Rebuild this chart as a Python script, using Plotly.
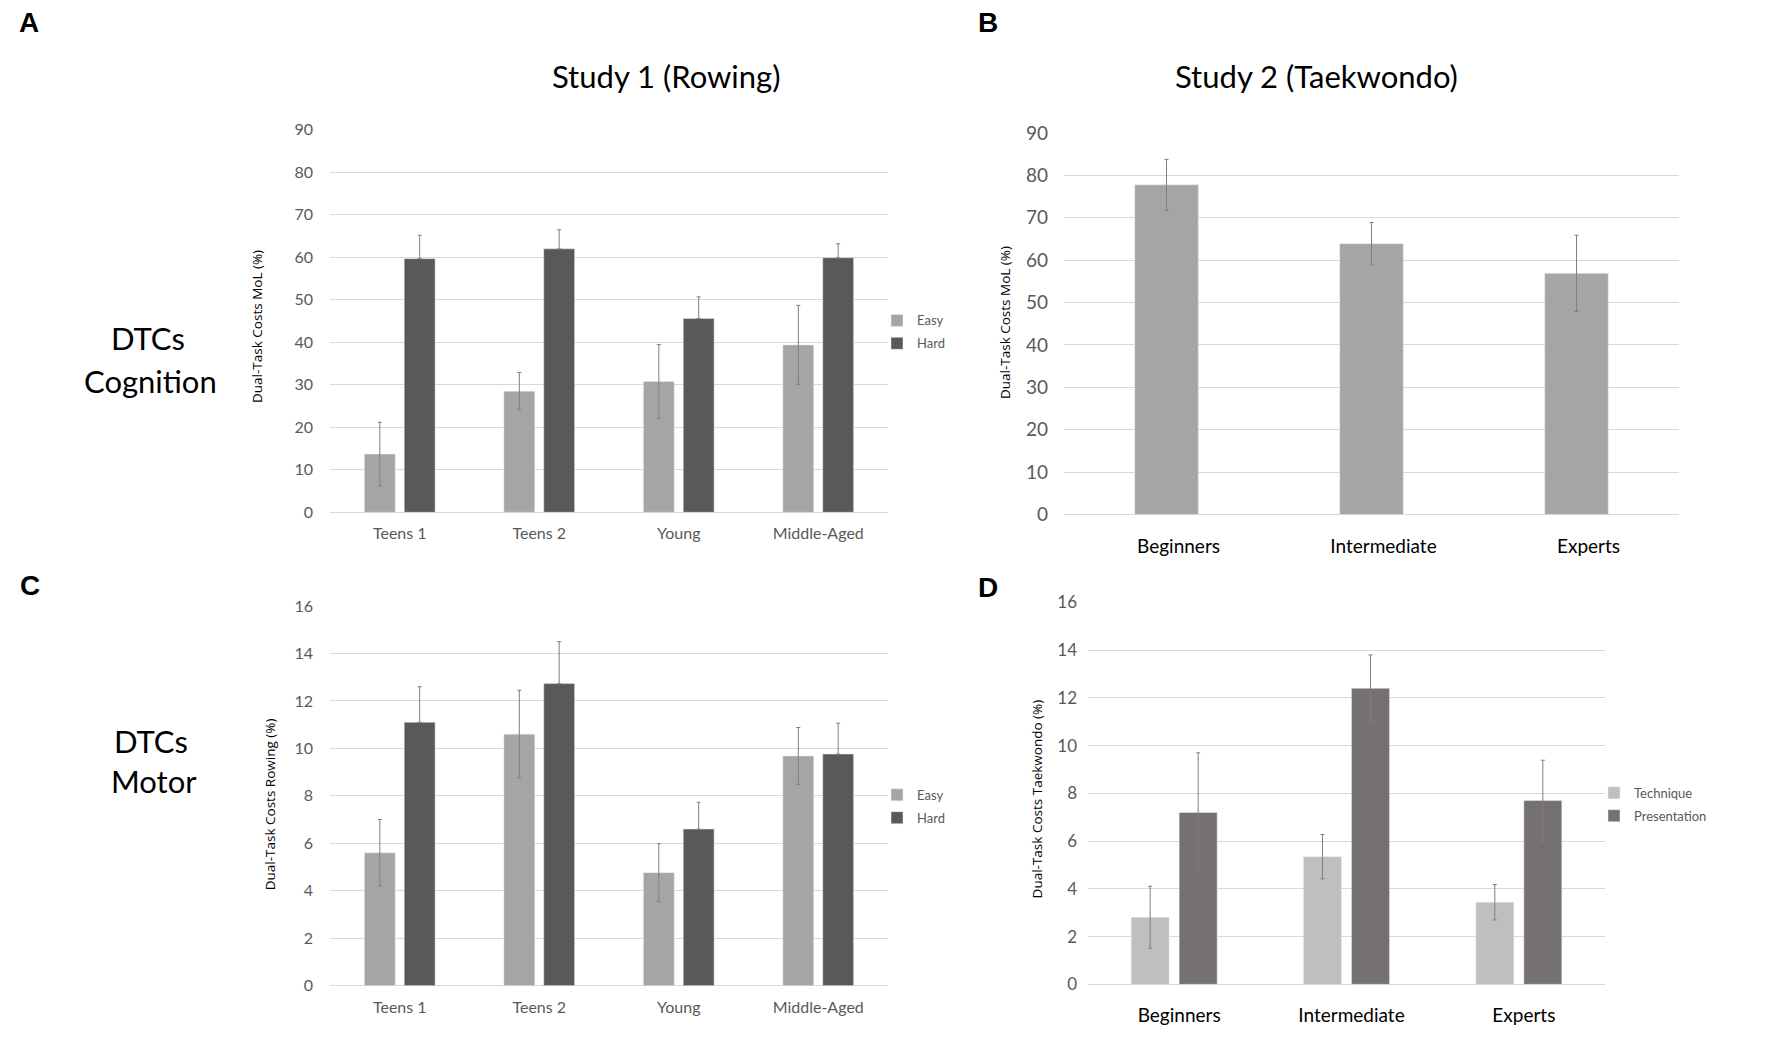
import plotly.graph_objects as go

W, H = 1772, 1052

# ---------------- data ----------------
groups_rowing = ["Teens 1", "Teens 2", "Young", "Middle-Aged"]
cog_easy = [13.7, 28.5, 30.8, 39.4]
cog_easy_err = [7.5, 4.4, 8.7, 9.3]
cog_hard = [59.7, 62.0, 45.6, 59.9]
cog_hard_err = [5.5, 4.5, 5.1, 3.3]

groups_tkd = ["Beginners", "Intermediate", "Experts"]
tkd_cog = [77.8, 63.9, 56.9]
tkd_cog_err = [6.0, 5.0, 9.0]

mot_easy = [5.6, 10.6, 4.76, 9.68]
mot_easy_err = [1.4, 1.85, 1.22, 1.2]
mot_hard = [11.1, 12.73, 6.6, 9.76]
mot_hard_err = [1.5, 1.77, 1.13, 1.3]

tkd_tech = [2.81, 5.35, 3.44]
tkd_tech_err = [1.3, 0.93, 0.74]
tkd_pres = [7.2, 12.4, 7.7]
tkd_pres_err = [2.5, 1.4, 1.69]

zeros4 = [0, 0, 0, 0]

# ---------------- styles ----------------
C_EASY = "#a5a5a5"
C_HARD = "#595959"
C_TECH = "#bfbfbf"
C_PRES = "#767171"
GRID = "#d9d9d9"
TICK = "#595959"
ERR = "#7f7f7f"
FONT = "Lato, Carlito, Liberation Sans, sans-serif"
TFONT = "Open Sans, DejaVu Sans, sans-serif"


def px(x):
    return x / W


def py(y):
    return 1 - y / H


def err(vals, minus=None):
    d = dict(type="data", array=vals, color=ERR, thickness=1, width=2, visible=True)
    if minus is not None:
        d.update(symmetric=False, arrayminus=minus)
    return d


fig = go.Figure()

# Panel A
fig.add_trace(go.Bar(x=groups_rowing, y=cog_easy, name="Easy", marker_color=C_EASY,
                     width=0.2214, offset=-0.2536, error_y=err(cog_easy_err),
                     xaxis="x", yaxis="y", legend="legend", legendgroup="a1"))
fig.add_trace(go.Bar(x=groups_rowing, y=cog_hard, name="Hard", marker_color=C_HARD,
                     width=0.2214, offset=0.0321, error_y=err(cog_hard_err, zeros4),
                     xaxis="x", yaxis="y", legend="legend", legendgroup="a2"))
# Panel B
fig.add_trace(go.Bar(x=groups_tkd, y=tkd_cog, name="MoL", marker_color=C_EASY,
                     width=0.31, offset=-0.155, error_y=err(tkd_cog_err),
                     xaxis="x2", yaxis="y2", showlegend=False))
# Panel C
fig.add_trace(go.Bar(x=groups_rowing, y=mot_easy, name="Easy", marker_color=C_EASY,
                     width=0.2214, offset=-0.2536, error_y=err(mot_easy_err),
                     xaxis="x3", yaxis="y3", legend="legend2", legendgroup="c1"))
fig.add_trace(go.Bar(x=groups_rowing, y=mot_hard, name="Hard", marker_color=C_HARD,
                     width=0.2214, offset=0.0321, error_y=err(mot_hard_err, zeros4),
                     xaxis="x3", yaxis="y3", legend="legend2", legendgroup="c2"))
# Panel D
fig.add_trace(go.Bar(x=groups_tkd, y=tkd_tech, name="Technique", marker_color=C_TECH,
                     width=0.2205, offset=-0.2496, error_y=err(tkd_tech_err),
                     xaxis="x4", yaxis="y4", legend="legend3", legendgroup="d1"))
fig.add_trace(go.Bar(x=groups_tkd, y=tkd_pres, name="Presentation", marker_color=C_PRES,
                     width=0.2205, offset=0.029, error_y=err(tkd_pres_err),
                     xaxis="x4", yaxis="y4", legend="legend3", legendgroup="d2"))


def xax(dom, anchor, size, color, standoff, shift=0):
    return dict(domain=dom, anchor=anchor, showgrid=False, showline=False, zeroline=False,
                ticks="", ticklabelstandoff=standoff, ticklabelshift=shift,
                tickfont=dict(family=FONT, size=size, color=color), fixedrange=True)


def yax(dom, anchor, rng, dtick, size, standoff):
    return dict(domain=dom, anchor=anchor, range=rng, dtick=dtick, showgrid=True,
                gridcolor=GRID, gridwidth=1, zeroline=True, zerolinecolor=GRID,
                zerolinewidth=1, showline=False, ticks="", ticklabelstandoff=standoff,
                tickfont=dict(family=FONT, size=size, color=TICK), fixedrange=True)


A_x = [px(330), px(888)]
A_y = [py(511.5), py(120.5)]
B_x = [px(1064), px(1679)]
B_y = [py(513.7), py(123.8)]
C_x = [px(330), px(888)]
C_y = [py(995.4), py(607.3)]
D_x = [px(1088), px(1605)]
D_y = [py(994.1), py(603.6)]

leg_common = dict(bgcolor="rgba(0,0,0,0)", borderwidth=0, xanchor="left", yanchor="top",
                  font=dict(family=FONT, size=13, color=TICK), tracegroupgap=3,
                  itemwidth=30)

fig.update_layout(
    width=W, height=H, margin=dict(l=0, r=0, t=0, b=0),
    paper_bgcolor="white", plot_bgcolor="white",
    barmode="group",
    xaxis=xax(A_x, "y", 16, TICK, 10),
    yaxis=yax(A_y, "x", [0, 90], 10, 16, 16),
    xaxis2=xax(B_x, "y2", 19, "#000000", 19, 12),
    yaxis2=yax(B_y, "x2", [0, 90], 10, 19, 15),
    xaxis3=xax(C_x, "y3", 16, TICK, 10),
    yaxis3=yax(C_y, "x3", [0, 16], 2, 16, 16),
    xaxis4=xax(D_x, "y4", 19, "#000000", 18, 5),
    yaxis4=yax(D_y, "x4", [0, 16], 2, 17, 10),
    legend=dict(x=px(877), y=py(300), **leg_common),
    legend2=dict(x=px(877), y=py(785), **leg_common),
    legend3=dict(x=px(1594), y=py(783), **leg_common),
)

annotations = [
    # panel letters
    dict(text="<b>A</b>", x=px(29), y=py(11), size=28),
    dict(text="<b>B</b>", x=px(988), y=py(11), size=28),
    dict(text="<b>C</b>", x=px(30), y=py(586), size=28),
    dict(text="<b>D</b>", x=px(988), y=py(588), size=28),
    # titles
    dict(text="Study 1 (Rowing)", x=px(666), y=py(65.5), size=31, family=FONT),
    dict(text="Study 2 (Taekwondo)", x=px(1316), y=py(65.5), size=31, family=FONT),
    # row labels
    dict(text="DTCs", x=px(148), y=py(333), size=31, family=FONT),
    dict(text="Cognition", x=px(150), y=py(377), size=31, family=FONT),
    dict(text="DTCs", x=px(151), y=py(745), size=31, family=FONT),
    dict(text="Motor", x=px(154), y=py(786), size=31, family=FONT),
    # y axis titles
    dict(text="Dual-Task Costs MoL (%)", x=px(257), y=py(322), size=13.5, family=TFONT, angle=-90),
    dict(text="Dual-Task Costs MoL (%)", x=px(1005), y=py(317), size=13.5, family=TFONT, angle=-90),
    dict(text="Dual-Task Costs Rowing (%)", x=px(270), y=py(810), size=13.5, family=TFONT, angle=-90),
    dict(text="Dual-Task Costs Taekwondo (%)", x=px(1037), y=py(805), size=13.5, family=TFONT, angle=-90),
]
for a in annotations:
    fig.add_annotation(
        text=a["text"], x=a["x"], y=a["y"], xref="paper", yref="paper",
        xanchor="center", yanchor="middle", showarrow=False,
        textangle=a.get("angle", 0),
        font=dict(family=a.get("family", "Liberation Sans, Arial, sans-serif"),
                  size=a["size"], color="#000000"),
    )

fig.write_html(
    "out.html",
    config={"displayModeBar": False},
    post_script="document.body.style.margin='0';document.body.style.padding='0';",
)
